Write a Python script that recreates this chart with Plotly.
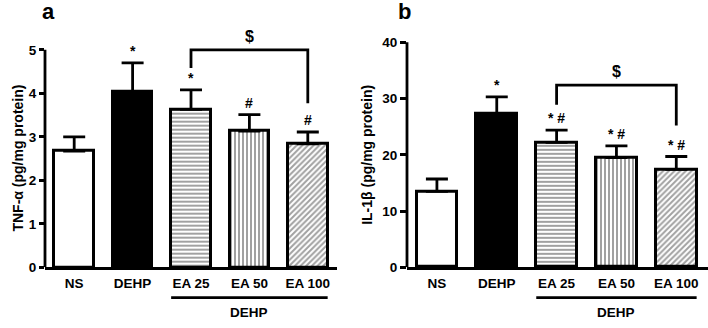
import plotly.graph_objects as go

categories = ["NS", "DEHP", "EA 25", "EA 50", "EA 100"]
tnf_mean = [2.67, 4.04, 3.63, 3.13, 2.84]
tnf_sem = [0.33, 0.66, 0.45, 0.38, 0.27]
il1b_mean = [13.5, 27.2, 22.2, 19.5, 17.4]
il1b_sem = [2.2, 3.1, 2.2, 2.1, 2.3]
tnf_sig = ["", "*", "*", "#", "#"]
il1b_sig = ["", "*", "* #", "* #", "* #"]
tnf_ticks = [0, 1, 2, 3, 4, 5]
il1b_ticks = [0, 10, 20, 30, 40]
# bracket: [left idx, right idx, top value, left leg end, right leg end]
tnf_bracket = [2, 4, 5.0, 4.58, 3.77]
il1b_bracket = [2, 4, 32.4, 28.9, 25.2]

fills = ["white", "black", "white", "white", "white"]
patterns = ["", "", "-", "|", "/"]
FONT = "Arial, Liberation Sans, sans-serif"
BW = 0.68
FS = 13.5

fig = go.Figure()


def add_panel(xa, ya, means, sems):
    n = len(categories)
    fig.add_trace(go.Bar(
        x=list(range(n)), y=means, width=BW,
        xaxis=xa, yaxis=ya,
        marker=dict(color=fills, line=dict(color="black", width=3),
                    pattern=dict(shape=patterns, fgcolor="black", size=4, solidity=0.5)),
        error_y=dict(type="data", array=sems, arrayminus=[0] * n, symmetric=False,
                     color="black", thickness=2.8, width=11),
        showlegend=False, hoverinfo="skip"))


add_panel("x", "y", tnf_mean, tnf_sem)
add_panel("x2", "y2", il1b_mean, il1b_sem)

axis_common = dict(showgrid=False, zeroline=False)
bold = dict(family=FONT, size=FS, weight="bold")
fig.update_layout(
    width=708, height=328, margin=dict(l=0, r=0, t=0, b=0),
    plot_bgcolor="white", paper_bgcolor="white",
    font=dict(family=FONT, size=FS, color="black"),
    bargap=0,
    xaxis=dict(domain=[45 / 708, 337 / 708], range=[-0.5, 4.5], showline=True, linecolor="black",
               linewidth=2.8, ticks="", tickvals=list(range(5)), ticktext=categories,
               tickfont=bold, ticklabelstandoff=2, anchor="y", **axis_common),
    yaxis=dict(domain=[54 / 328, 0.926], range=[0, 5.6], showline=False, ticks="outside",
               ticklen=5, tickwidth=2.8, tickcolor="black", tickvals=tnf_ticks,
               tickfont=bold, anchor="x", **axis_common),
    xaxis2=dict(domain=[407 / 708, 1.0], range=[-0.5, 4.53], showline=True, linecolor="black",
                linewidth=2.8, ticks="", tickvals=list(range(5)), ticktext=categories,
                tickfont=bold, ticklabelstandoff=2, anchor="y2", **axis_common),
    yaxis2=dict(domain=[54 / 328, 0.938], range=[0, 44], showline=False, ticks="outside",
                ticklen=6, tickwidth=2.8, tickcolor="black", tickvals=il1b_ticks,
                tickfont=bold, anchor="x2", **axis_common),
)

shapes = []
annotations = []


def decorate(xa, ya, means, sems, sig, ticks, bracket, title, letter, title_x, letter_x):
    xr = xa.replace("axis", "")
    yr = ya.replace("axis", "")
    # y axis line ending at top tick
    shapes.append(dict(type="line", xref=f"{xr} domain", x0=0, x1=0, yref=yr,
                       y0=ticks[0], y1=ticks[-1], line=dict(color="black", width=2.8)))
    # significance marks
    for i, s in enumerate(sig):
        if s:
            annotations.append(dict(x=i, y=means[i] + sems[i], xref=xr, yref=yr, text=s,
                                    showarrow=False, yanchor="bottom", yshift=2,
                                    font=dict(family=FONT, size=14, weight="bold")))
    l, r, top, le, re_ = bracket
    shapes.append(dict(type="path", xref=xr, yref=yr,
                       path=f"M {l},{le} L {l},{top} L {r},{top} L {r},{re_}",
                       line=dict(color="black", width=2.8)))
    annotations.append(dict(x=(l + r) / 2, y=top, xref=xr, yref=yr, text="$", showarrow=False,
                            yanchor="bottom", yshift=3, font=dict(family=FONT, size=16, weight="bold")))
    # DEHP group line
    shapes.append(dict(type="line", xref=xr, yref="paper", x0=2 - BW / 2, x1=4 + BW / 2,
                       y0=23 / 328, y1=23 / 328, line=dict(color="black", width=2.8)))
    annotations.append(dict(x=3, y=8 / 328, xref=xr, yref="paper", text="DEHP", showarrow=False,
                            yanchor="middle", font=bold))
    # y title
    annotations.append(dict(x=title_x, y=(ticks[0] + ticks[-1]) / 2, xref="paper", yref=yr,
                            text=title, showarrow=False, textangle=-90,
                            font=dict(family=FONT, size=14, weight="bold")))
    # panel letter
    annotations.append(dict(x=letter_x, y=1 - 12 / 328, xref="paper", yref="paper", text=letter,
                            showarrow=False, yanchor="middle",
                            font=dict(family=FONT, size=22, weight="bold")))


decorate("xaxis", "yaxis", tnf_mean, tnf_sem, tnf_sig, tnf_ticks, tnf_bracket,
         "TNF-α (pg/mg protein)", "a", 8 / 708, 40 / 708)
decorate("xaxis2", "yaxis2", il1b_mean, il1b_sem, il1b_sig, il1b_ticks, il1b_bracket,
         "IL-1β (pg/mg protein)", "b", 367 / 708, 404 / 708)

fig.update_layout(shapes=shapes, annotations=annotations)
fig.write_html("out.html", config={"displayModeBar": False},
               post_script="document.body.style.margin='0';document.body.style.overflow='hidden';")
